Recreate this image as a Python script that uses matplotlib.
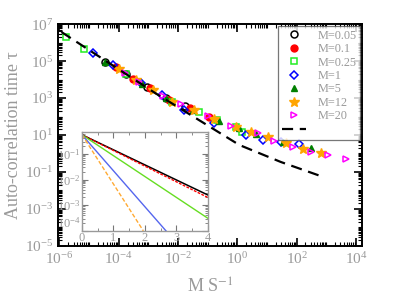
import numpy as np
import matplotlib
matplotlib.use("Agg")
import matplotlib.pyplot as plt
from matplotlib.ticker import FixedLocator, LogLocator, NullFormatter, MultipleLocator

plt.rcParams['font.family'] = ['Liberation Serif', 'DejaVu Serif']
plt.rcParams['mathtext.fontset'] = 'stix'

txt_col = '#9a9a9a'

# main panel data, read as log10 exponents of (x, tau)
black_lx = [-4.45, -3.75, -3.05, -2.4, -1.75]
black_ly = [4.97, 4.30, 3.61, 3.02, 2.57]
red_lx = [-4.1, -3.5, -2.95, -2.3, -1.6, -0.95]
red_ly = [4.68, 4.03, 3.52, 2.92, 2.44, 1.98]
lime_lx = [-5.77, -5.17, -3.75, -2.2, -1.3, -0.7, -0.03, 0.17]
lime_ly = [6.30, 5.65, 4.30, 2.80, 2.24, 1.81, 1.43, 1.16]
blue_lx = [-4.87, -4.2, -3.25, -2.53, -1.8, -0.77, 0.3, 0.87, 1.47, 2.07]
blue_ly = [5.43, 4.77, 3.79, 3.16, 2.35, 1.65, 1.0, 0.73, 0.62, 0.51]
dgreen_lx = [-4.45, -3.2, -2.4, -1.5, -0.6, 0.05, 0.63, 1.53, 2.47]
dgreen_ly = [4.97, 3.75, 3.02, 2.37, 1.74, 1.39, 1.05, 0.62, 0.30]
orange_lx = [-4.0, -3.4, -2.85, -2.2, -1.45, -0.8, -0.05, 0.47, 1.03, 1.63, 2.2, 2.83]
orange_ly = [4.57, 3.96, 3.42, 2.80, 2.34, 1.88, 1.44, 1.16, 0.89, 0.57, 0.24, 0.03]
mag_lx = [-3.8, -3.3, -2.5, -1.9, -1.0, -0.2, 0.7, 1.23, 1.87, 2.47, 3.07, 3.67]
mag_ly = [4.35, 3.84, 3.10, 2.68, 2.02, 1.51, 1.11, 0.68, 0.35, 0.08, -0.08, -0.30]

# dashed reference curve
fit_lx = [-5.93, -2.77, 0.07, 1.47, 2.9]
fit_ly = [6.57, 3.27, 0.46, -0.46, -1.27]

labels = ['M=0.05', 'M=0.1', 'M=0.25', 'M=1', 'M=5', 'M=12', 'M=20']

# inset: straight lines on semilog axes (start, end)
ins_black = ([0, 4], [0.55, 2.5e-3])
ins_red = ([0, 4], [0.55, 2.0e-3])
ins_green = ([0, 4], [0.55, 3.1e-4])
ins_blue = ([0, 2.67], [0.55, 1e-4])
ins_orange = ([0, 1.95], [0.55, 1e-4])


def pw(a):
    return 10.0 ** np.array(a)


fig = plt.figure(figsize=(4.02, 3.01), dpi=100)
ax = fig.add_axes([0.144, 0.183, 0.756, 0.737])

ms = 5
ax.plot(pw(black_lx), pw(black_ly), 'o', mfc='none', mec='black', mew=1.1, ms=ms, label=labels[0])
ax.plot(pw(red_lx), pw(red_ly), 'o', color='red', ms=ms, label=labels[1])
ax.plot(pw(lime_lx), pw(lime_ly), 's', mfc='none', mec='#22ee22', mew=1.1, ms=ms, label=labels[2])
ax.plot(pw(blue_lx), pw(blue_ly), 'D', mfc='none', mec='blue', mew=1.1, ms=4.5, label=labels[3])
ax.plot(pw(dgreen_lx), pw(dgreen_ly), '^', color='green', ms=ms, label=labels[4])
ax.plot(pw(orange_lx), pw(orange_ly), '*', color='orange', ms=7, label=labels[5])
ax.plot(pw(mag_lx), pw(mag_ly), '>', mfc='none', mec='magenta', mew=1.1, ms=ms, label=labels[6])
ax.plot(pw(fit_lx), pw(fit_ly), '--', color='black', lw=1.6, dashes=(5, 3), label=' ')

ax.set_xscale('log')
ax.set_yscale('log')
ax.set_xlim(10 ** -6.05, 10 ** 4.2)
ax.set_ylim(1e-5, 1e7)

ax.xaxis.set_major_locator(FixedLocator([1e-6, 1e-4, 1e-2, 1e0, 1e2, 1e4]))
ax.xaxis.set_minor_locator(LogLocator(base=10, subs=np.arange(1, 10), numticks=30))
ax.yaxis.set_major_locator(FixedLocator([1e-5, 1e-3, 1e-1, 1e1, 1e3, 1e5, 1e7]))
ax.yaxis.set_minor_locator(LogLocator(base=10, subs=np.arange(1, 10), numticks=30))
ax.xaxis.set_minor_formatter(NullFormatter())
ax.yaxis.set_minor_formatter(NullFormatter())
ax.tick_params(which='both', direction='in', top=True, right=True)
ax.tick_params(which='major', length=6, width=1.2, labelsize=11, labelcolor=txt_col)
ax.tick_params(which='minor', length=3, width=0.8)
for s in ax.spines.values():
    s.set_linewidth(1.4)

ax.set_xlabel(r'M S$^{-1}$', fontsize=13, color=txt_col, labelpad=8)
ax.set_ylabel('Auto-correlation time τ', fontsize=13, color=txt_col, labelpad=2)

leg = ax.legend(loc='upper right', fontsize=8.8, frameon=True, fancybox=False,
                edgecolor='#555555', handlelength=2.0, labelspacing=0.12,
                borderpad=0.3, handletextpad=0.9, borderaxespad=0.15)
leg.get_frame().set_linewidth(0.9)
for t in leg.get_texts():
    t.set_color(txt_col)

# inset
axi = fig.add_axes([0.204, 0.233, 0.313, 0.328])
axi.plot(*ins_black, color='black', lw=1.1)
axi.plot(*ins_red, color='red', lw=1.0, ls=(0, (2, 1)))
axi.plot(*ins_green, color='#66dd22', lw=1.0)
axi.plot(*ins_blue, color='#5566ee', lw=1.0)
axi.plot(*ins_orange, color='#ffaa33', lw=1.0, ls=(0, (3, 1.5)))
axi.set_yscale('log')
axi.set_xlim(0, 4)
axi.set_ylim(1e-4, 0.7)
axi.xaxis.set_major_locator(MultipleLocator(1))
axi.xaxis.set_minor_locator(MultipleLocator(0.5))
axi.yaxis.set_major_locator(FixedLocator([1e-4, 1e-3, 1e-2, 1e-1]))
axi.yaxis.set_minor_locator(LogLocator(base=10, subs=np.arange(2, 10), numticks=30))
axi.yaxis.set_minor_formatter(NullFormatter())
axi.tick_params(which='both', direction='in', top=True, right=True, labelsize=9,
                labelcolor=txt_col, pad=1)
axi.tick_params(which='major', length=4, color='#777777')
axi.tick_params(which='minor', length=2, color='#777777')
for s in axi.spines.values():
    s.set_color('#999999')
    s.set_linewidth(1.0)
# keep the lowest y label clear of the x label "0"
axi.get_yticklabels()[0].set_verticalalignment('bottom')

fig.savefig('out.png', dpi=100)
